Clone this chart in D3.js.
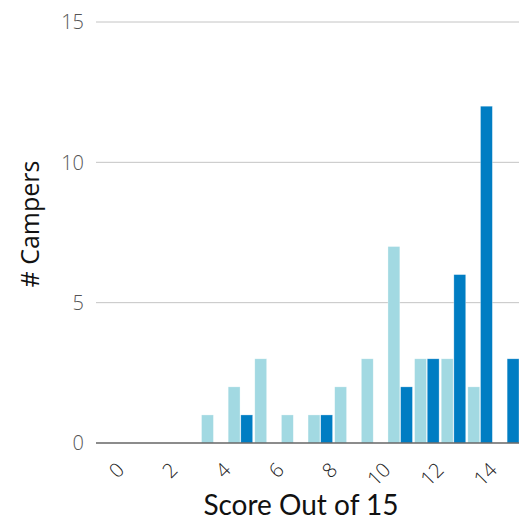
<!DOCTYPE html>
<html><head><meta charset="utf-8">
<script src="https://cdn.jsdelivr.net/npm/d3@7"></script>
<style>body{margin:0;background:#fff}svg{display:block}</style>
</head><body>
<svg id="chart" width="519" height="520"></svg>
<script>
const scores = [0,1,2,3,4,5,6,7,8,9,10,11,12,13,14,15];
const seriesA = [0,0,0,0,1,2,3,1,1,2,3,7,3,3,2,0];
const seriesB = [0,0,0,0,0,1,0,0,1,0,0,2,3,6,12,3];
const xTickLabels = [0,2,4,6,8,10,12,14];
const yTicks = [0,5,10,15];
const xTitle = "Score Out of 15";
const yTitle = "# Campers";
const colors = {A:"#a2d9e2", B:"#007dc3"};

const svg = d3.select("#chart");
const x = d3.scaleBand().domain(scores).range([95,519]).paddingInner(0.08).paddingOuter(0).align(0);
const step = x.step();
const x1 = d3.scaleBand().domain(["A","B"]).range([0, x.bandwidth()]).paddingInner(0.06);
const y = d3.scaleLinear().domain([0,15]).range([443,22]);

// gridlines
svg.append("g").selectAll("line").data(yTicks.filter(d=>d>0)).join("line")
  .attr("x1",96).attr("x2",519).attr("y1",d=>y(d)).attr("y2",d=>y(d))
  .attr("stroke","#c4c4c4").attr("stroke-width",1);

// y labels
svg.append("g").selectAll("text").data(yTicks).join("text")
  .attr("x",84).attr("y",d=>y(d)).attr("dy","0.36em")
  .attr("text-anchor","end")
  .style("font-family","'Open Sans', sans-serif").style("font-weight",300)
  .style("font-size","20px").attr("fill","#555")
  .text(d=>d);

const rows = scores.map((s,i)=>({s, A:seriesA[i], B:seriesB[i]}));
const g = svg.append("g");
rows.forEach(r=>{
  ["A","B"].forEach(k=>{
    if (r[k] > 0) {
      g.append("rect")
        .attr("x", x(r.s)+x1(k)).attr("width", x1.bandwidth())
        .attr("y", y(r[k])).attr("height", y(0)-y(r[k]))
        .attr("fill", colors[k]).attr("stroke","rgba(255,255,255,0.5)").attr("stroke-width",0.6);
    }
  });
});

// baseline
svg.append("line").attr("x1",96).attr("x2",519).attr("y1",y(0)).attr("y2",y(0))
  .attr("stroke","#666").attr("stroke-width",1.5);

// x tick labels
svg.append("g").selectAll("text").data(xTickLabels).join("text")
  .attr("transform", d=>`translate(${x(d)+step/2+7},${461}) rotate(-45)`)
  .attr("text-anchor","end").attr("dy","0.72em")
  .style("font-family","'Open Sans', sans-serif").style("font-weight",300)
  .style("font-size","20px").attr("fill","#222")
  .text(d=>d);

// titles
svg.append("text").attr("x",301).attr("y",515).attr("text-anchor","middle")
  .style("font-family","'Lato', sans-serif").style("font-size","28px").attr("fill","#111")
  .text(xTitle);
svg.append("text").attr("transform","translate(39,224) rotate(-90)").attr("text-anchor","middle")
  .style("font-family","'Open Sans', sans-serif").style("font-size","25px").attr("fill","#111")
  .text(yTitle);
</script>
</body></html>
